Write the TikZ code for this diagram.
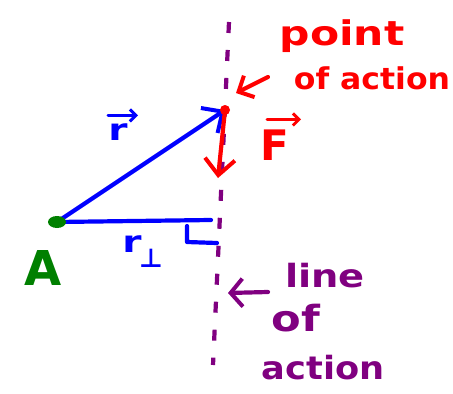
\documentclass[tikz,border=0pt]{standalone}
\usepackage{fontspec}
\setmainfont{DejaVu Sans}
\usetikzlibrary{arrows.meta}
\definecolor{penblue}{RGB}{0,0,255}
\definecolor{penred}{RGB}{255,0,0}
\definecolor{pengreen}{RGB}{0,128,0}
\definecolor{penpurple}{RGB}{128,0,128}
\tikzset{
  pen/.style={line width=4.2pt, line cap=round, line join=round},
  barb/.style={-{Straight Barb[length=16pt,width=30pt,line width=4pt]}},
  smallbarb/.style={-{Straight Barb[length=6pt,width=12pt,line width=3pt]}},
  hand/.style={inner sep=0pt, font=\bfseries\fontsize{30}{30}\selectfont},
}
\begin{document}
\begin{tikzpicture}[x=1pt,y=-1pt]
\useasboundingbox (0,0) rectangle (453,394);
% points
\coordinate (top) at (229,22);
\coordinate (bot) at (213,365);
\coordinate (P) at (225,110);
\coordinate (A) at (57,222);
\coordinate (H) at (211,220);
\coordinate (Fend) at (218,178);
% line of action
\draw[pen, penpurple, line cap=butt, dash pattern=on 11pt off 17pt] (top) -- (bot);
% r vector
\draw[pen, penblue, barb] (A) -- (P);
% perpendicular
\draw[pen, penblue] (A) -- (H);
\coordinate (rk1) at (187,226);
\coordinate (rk2) at (187,242);
\coordinate (rk3) at (217,243);
\draw[pen, penblue] (rk1) -- (rk2) -- (rk3);
% force
\draw[pen, penred, barb] (P) -- (Fend);
\fill[penred] (P) circle (5pt);
\fill[pengreen] (A) ellipse (9pt and 6pt);
% labels
\node[hand, text=pengreen, font=\bfseries\fontsize{48}{48}\selectfont] (Alab) at (43,268) {A};
\node[hand, text=penblue] (rlab) at (118,132) {\scalebox{1.3}[1]{r}};
\draw[pen, penblue, line width=3pt, smallbarb] ([xshift=-10pt,yshift=8pt]rlab.north) -- ++(30,0);
\node[hand, text=penblue] (rperp) at (132,244) {\scalebox{1.3}[1]{r}};
\node[hand, text=penblue, font=\bfseries\fontsize{26}{26}\selectfont, anchor=north west] (perp) at ([xshift=-3pt,yshift=4pt]rperp.south east) {⊥};
\node[hand, text=penred, font=\bfseries\fontsize{42}{42}\selectfont] (Flab) at (275,145) {F};
\draw[pen, penred, line width=3pt, smallbarb] ([xshift=-8pt,yshift=10pt]Flab.north) -- ++(34,0);
\node[hand, text=penred, font=\bfseries\fontsize{34}{34}\selectfont] (point) at (342,36) {\scalebox{1.25}[1]{point}};
\node[hand, text=penred] (ofaction) at (372,78) {\scalebox{1.05}[1]{of action}};
\coordinate (pa) at (268,77);
\coordinate (pb) at (236,93);
\draw[pen, penred, -{Straight Barb[length=12pt,width=24pt,line width=4pt]}] (pa) -- (pb);
\node[hand, text=penpurple, font=\bfseries\fontsize{32}{32}\selectfont] (line) at (325,276) {\scalebox{1.2}[1]{line}};
\node[hand, text=penpurple, font=\bfseries\fontsize{36}{36}\selectfont] (of) at (296,318) {\scalebox{1.2}[1]{of}};
\node[hand, text=penpurple, font=\bfseries\fontsize{32}{32}\selectfont] (action) at (323,368) {\scalebox{1.1}[1]{action}};
\coordinate (la) at (268,292);
\coordinate (lb) at (228,293);
\draw[pen, penpurple, -{Straight Barb[length=12pt,width=28pt,line width=4pt]}] (la) -- (lb);
\end{tikzpicture}
\end{document}
